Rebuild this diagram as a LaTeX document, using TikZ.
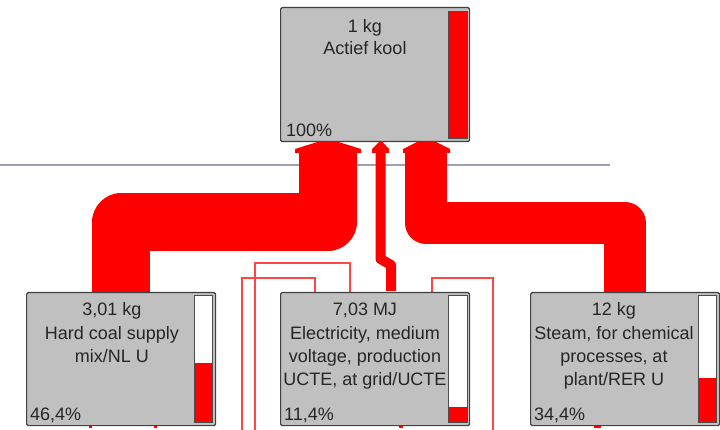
\documentclass[tikz,border=0pt]{standalone}
\usepackage{fontspec}
\setmainfont{Liberation Sans}
\definecolor{boxgray}{RGB}{192,192,192}
\definecolor{rule}{RGB}{160,160,178}
\definecolor{thinred}{RGB}{255,70,70}
\begin{document}
\begin{tikzpicture}[x=1pt,y=-1pt,
  box/.style={draw=black!75, line width=1.2pt, fill=boxgray, rounded corners=1.5pt, inner sep=0pt, anchor=north west, minimum width=189pt},
  barframe/.style={draw=black!70, line width=0.8pt},
  lbl/.style={font=\fontsize{18}{22}\selectfont, inner sep=0pt, anchor=base, text=black!85},
  pct/.style={font=\fontsize{18}{22}\selectfont, inner sep=0pt, anchor=base west, text=black!85},
  flow/.style={draw=red, line join=round, line cap=butt},
  head/.style={fill=red},
  thinflow/.style={draw=thinred, line width=1.1pt}]
\useasboundingbox (0,0) rectangle (720,430);
\clip (0,0) rectangle (720,430);

% separator rule
\draw[rule, line width=1.3pt] (0,165) -- (610,165);

% boxes (named, drawn later on top of flows)
\path (280,7) coordinate (topnw) (26,292) coordinate (coalnw) (280,292) coordinate (elecnw) (530,292) coordinate (steamnw);

% thin flows from below into the electricity box
\draw[thinflow] (242,431) |- (315,278) -- (315,292);
\draw[thinflow] (255,431) |- (350,263) -- (350,292);
\draw[thinflow] (493,431) |- (432,278) -- (432,292);

% nodes
\node[box, minimum height=134pt] (top) at (topnw) {};
\node[box, minimum height=133pt] (coal) at (coalnw) {};
\node[box, minimum height=133pt] (elec) at (elecnw) {};
\node[box, minimum height=133pt] (steam) at (steamnw) {};

% thick flows
\coordinate (inL) at (327.5,152);
\coordinate (inM) at (380.5,152);
\coordinate (inR) at (426,152);
\draw[flow, line width=58pt] (coal.north) |- (327.5,222.5) -- (inL);
\draw[flow, line width=42pt] (steam.north) |- (426,223) -- (inR);
\draw[flow, line width=10pt] (391,291) -- (391,265) -- (380.5,259) -- (inM);
% arrow heads at the top box
\fill[head] (295,153) -- (295,149) -- (319,141.5) -- (337,141.5) -- (361,149) -- (361,153) -- cycle;
\fill[head] (372,153) -- (372,149) -- (379.5,141.5) -- (382,141.5) -- (389,149) -- (389,153) -- cycle;
\fill[head] (403,153) -- (403,149) -- (418,141.5) -- (435,141.5) -- (450,149) -- (450,153) -- cycle;

% tiny incoming heads below the lower boxes
\fill[head] (88.5,425.5) rectangle (91.5,428);
\fill[head] (153.5,425.5) rectangle (156.5,428);
\fill[head] (398.5,425.5) rectangle (402.5,428);
\fill[head] (594,425.5) rectangle (601,428);

% bars
\draw[barframe, fill=red] (448,11) rectangle (467,138);
\draw[barframe, fill=white] (194,295) rectangle (212,422);
\fill[red] (194,363) rectangle (212,422);
\draw[barframe] (194,295) rectangle (212,422);
\draw[barframe, fill=white] (448,295) rectangle (467,422);
\fill[red] (448,407) rectangle (467,422);
\draw[barframe] (448,295) rectangle (467,422);
\draw[barframe, fill=white] (698,295) rectangle (716,422);
\fill[red] (698,378) rectangle (716,422);
\draw[barframe] (698,295) rectangle (716,422);

% texts
\node[lbl] (t1) at (365,33) {1 kg};
\node[lbl] (t2) at (365,55) {Actief kool};
\node[pct] (t3) at (286,137) {100\%};

\node[lbl] (c1) at (112,316) {3,01 kg};
\node[lbl] (c2) at (112,339) {Hard coal supply};
\node[lbl] (c3) at (112,362) {mix/NL U};
\node[pct] (c4) at (30,420) {46,4\%};

\node[lbl] (e1) at (365,316) {7,03 MJ};
\node[lbl] (e2) at (365,339) {Electricity, medium};
\node[lbl] (e3) at (365,362) {voltage, production};
\node[lbl] (e4) at (365,385) {UCTE, at grid/UCTE};
\node[pct] (e5) at (284,420) {11,4\%};

\node[lbl] (s1) at (614,316) {12 kg};
\node[lbl] (s2) at (614,339) {Steam, for chemical};
\node[lbl] (s3) at (614,362) {processes, at};
\node[lbl] (s4) at (614,385) {plant/RER U};
\node[pct] (s5) at (534,420) {34,4\%};
\end{tikzpicture}
\end{document}
